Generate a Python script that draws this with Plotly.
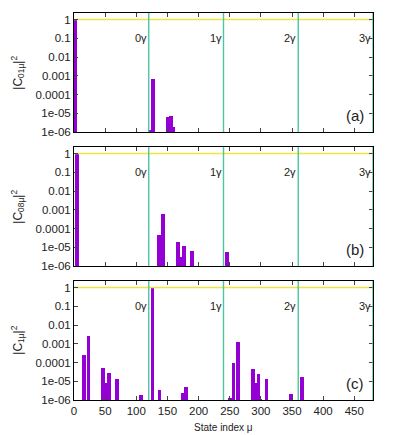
import plotly.graph_objects as go
from plotly.subplots import make_subplots

# state index mu and weights |C|^2 for each panel
mu_a = [2, 122, 127, 150, 156, 160]
c_a = [0.93, 1.3e-6, 6.5e-4, 6.3e-6, 7.5e-6, 1.8e-6]

mu_b = [5, 136, 143, 167, 171, 177, 189, 246, 248]
c_b = [0.9, 4.7e-5, 6.2e-4, 2.0e-5, 3.2e-6, 1.2e-5, 6.6e-6, 5.3e-6, 1.2e-6]

mu_c = [16, 23, 47, 52, 56, 69, 108, 126, 137, 174, 180,
        250, 256, 263, 287, 292, 296, 299, 309, 348, 366]
c_c = [2.6e-4, 2.6e-3, 4.8e-5, 7.9e-6, 2.6e-5, 1.4e-5, 1.8e-6, 0.93, 3.4e-6, 2.3e-6, 4.8e-6,
       1.3e-6, 9.6e-5, 1.3e-3, 4.3e-5, 7.6e-6, 2.5e-5, 1.2e-6, 1.4e-5, 2.1e-6, 1.6e-5]

gamma_pos = [120, 240, 360, 480]
gamma_labels = ["0γ", "1γ", "2γ", "3γ"]
norm_level = 1.0

ytitles = ["|C<sub>01μ</sub>|<sup>2</sup>", "|C<sub>08μ</sub>|<sup>2</sup>", "|C<sub>1μ</sub>|<sup>2</sup>"]
panel_tags = ["(a)", "(b)", "(c)"]
ytick_vals = [1e-6, 1e-5, 1e-4, 1e-3, 1e-2, 1e-1, 1]
ytick_text = ["1e-06", "1e-05", "0.0001", "0.001", "0.01", "0.1", "1"]

FONT = "Liberation Sans, Arial, sans-serif"
PURPLE = "#9400d3"
GREEN = "#4cc6a2"
YELLOW = "#f0e442"

fig = make_subplots(rows=3, cols=1, shared_xaxes=False, vertical_spacing=15 / 387)

for i, (mu, cc) in enumerate([(mu_a, c_a), (mu_b, c_b), (mu_c, c_c)]):
    row = i + 1
    fig.add_trace(go.Scatter(x=[0, 480], y=[norm_level, norm_level], mode="lines",
                             line=dict(color=YELLOW, width=1.6), showlegend=False,
                             hoverinfo="skip"), row=row, col=1)
    fig.add_trace(go.Bar(x=mu, y=cc, width=5.8, marker=dict(color=PURPLE, line=dict(width=0)),
                         showlegend=False), row=row, col=1)
    for gp, gl in zip(gamma_pos, gamma_labels):
        fig.add_vline(x=gp, line=dict(color=GREEN, width=1.4), row=row, col=1)
        fig.add_annotation(x=gp, y=-1, text=gl, showarrow=False, xanchor="right", yanchor="middle",
                           font=dict(size=11, color="#222"), row=row, col=1)
    xs = "" if row == 1 else str(row)
    fig.add_annotation(xref=f"x{xs} domain", yref=f"y{xs} domain", x=0.975, y=0.135,
                       text=panel_tags[i], showarrow=False, xanchor="right", yanchor="middle",
                       font=dict(size=15, color="#222"))
    fig.add_annotation(xref="paper", yref=f"y{xs} domain", x=-0.19, y=0.5,
                       text=ytitles[i], textangle=-90, showarrow=False,
                       xanchor="center", yanchor="middle", font=dict(size=12, color="#222"))
    fig.update_yaxes(type="log", range=[-6, 0.35], tickvals=ytick_vals, ticktext=ytick_text,
                     ticks="inside", ticklen=4, mirror="ticks", showline=True, linecolor="black",
                     linewidth=1, showgrid=False, zeroline=False,
                     tickfont=dict(size=11.5, color="#222"), row=row, col=1)
    fig.update_xaxes(range=[0, 480], dtick=50, tick0=0, ticks="inside", ticklen=4, mirror="ticks",
                     showline=True, linecolor="black", linewidth=1, showgrid=False, zeroline=False,
                     showticklabels=(row == 3), tickfont=dict(size=11.5, color="#222"),
                     row=row, col=1)

fig.add_annotation(xref="paper", yref="paper", x=0.5, y=-0.072, text="State index μ",
                   showarrow=False, xanchor="center", yanchor="middle",
                   font=dict(size=10, color="#222"))

# page body has an 8px margin, so the figure is sized to fill the window exactly
fig.update_layout(
    width=391, height=427,
    margin=dict(l=66, r=26, t=5, b=35),
    paper_bgcolor="white", plot_bgcolor="white",
    font=dict(family=FONT, color="#222"),
    bargap=0,
)

fig.write_html("out.html")
